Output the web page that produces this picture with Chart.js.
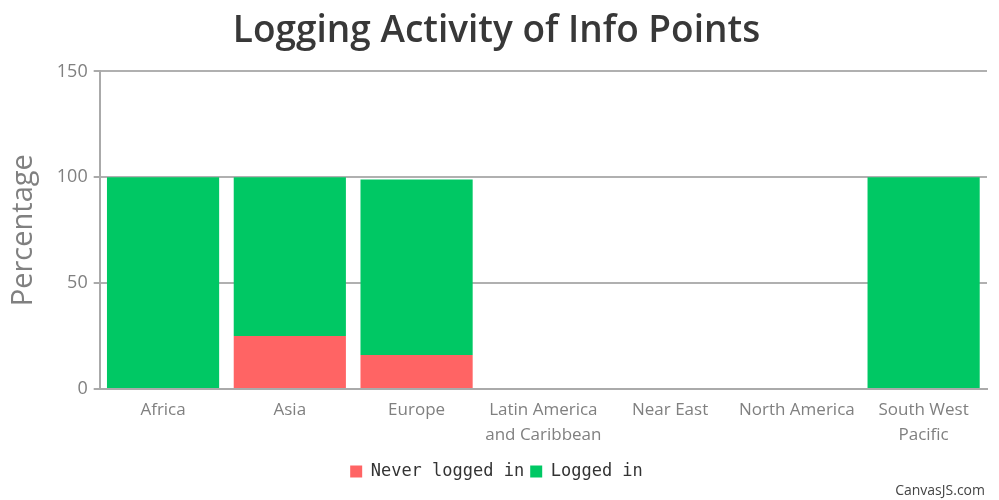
<!DOCTYPE html>
<html>
<head>
<meta charset="utf-8">
<script src="https://cdn.jsdelivr.net/npm/chart.js@4.4.0/dist/chart.umd.min.js"></script>
<style>
html,body{margin:0;padding:0;background:#fff;}
#wrap{position:relative;width:999px;height:500px;}
#credit{position:absolute;right:14px;bottom:1px;font:14px "Open Sans",sans-serif;color:#444;}
</style>
</head>
<body>
<div id="wrap"><canvas id="c" width="999" height="500"></canvas><div id="credit">CanvasJS.com</div></div>
<script>
const categories = ["Africa", "Asia", "Europe", ["Latin America", "and Caribbean"], "Near East", "North America", ["South West", "Pacific"]];
const neverLoggedIn = [0, 25, 16, 0, 0, 0, 0];
const loggedIn = [100, 75, 83, 0, 0, 0, 100];
const yTicks = [0, 50, 100, 150];

new Chart(document.getElementById('c'), {
  type: 'bar',
  data: {
    labels: categories,
    datasets: [
      {label: 'Never logged in', data: neverLoggedIn, backgroundColor: '#ff6464', barPercentage: 0.885, categoryPercentage: 1},
      {label: 'Logged in', data: loggedIn, backgroundColor: '#00c864', barPercentage: 0.885, categoryPercentage: 1}
    ]
  },
  options: {
    responsive: false,
    animation: false,
    layout: {padding: {left: 6, right: 12, top: 0, bottom: 10}},
    plugins: {
      title: {display: true, text: 'Logging Activity of Info Points', color: '#383838', font: {family: 'Open Sans', size: 37, weight: '600'}, padding: {top: 9, bottom: 18}},
      legend: {position: 'bottom', labels: {boxWidth: 12, boxHeight: 12, color: '#333', font: {family: 'DejaVu Sans Mono', size: 17}, padding: 6}},
      tooltip: {enabled: false}
    },
    scales: {
      x: {
        stacked: true,
        grid: {display: false, drawTicks: true, tickLength: 6, tickColor: '#aaa'},
        border: {color: '#aaa', width: 2},
        ticks: {color: '#808080', font: {family: 'Open Sans', size: 17, lineHeight: 1.5}, maxRotation: 0, autoSkip: false, padding: 2},
        afterFit: s => { s.height += 7; }
      },
      y: {
        stacked: true,
        min: 0, max: 150,
        afterBuildTicks: s => { s.ticks = yTicks.map(v => ({value: v})); },
        afterFit: s => { s.width += 10; },
        grid: {color: '#b0b0b0', lineWidth: 2, tickLength: 6, tickColor: '#aaa'},
        border: {color: '#aaa', width: 2},
        ticks: {color: '#808080', font: {family: 'Open Sans', size: 18}, padding: 6},
        title: {display: true, text: 'Percentage', color: '#808080', font: {family: 'Open Sans', size: 29}, padding: {top: 0, bottom: 0}}
      }
    }
  }
});
</script>
</body>
</html>
